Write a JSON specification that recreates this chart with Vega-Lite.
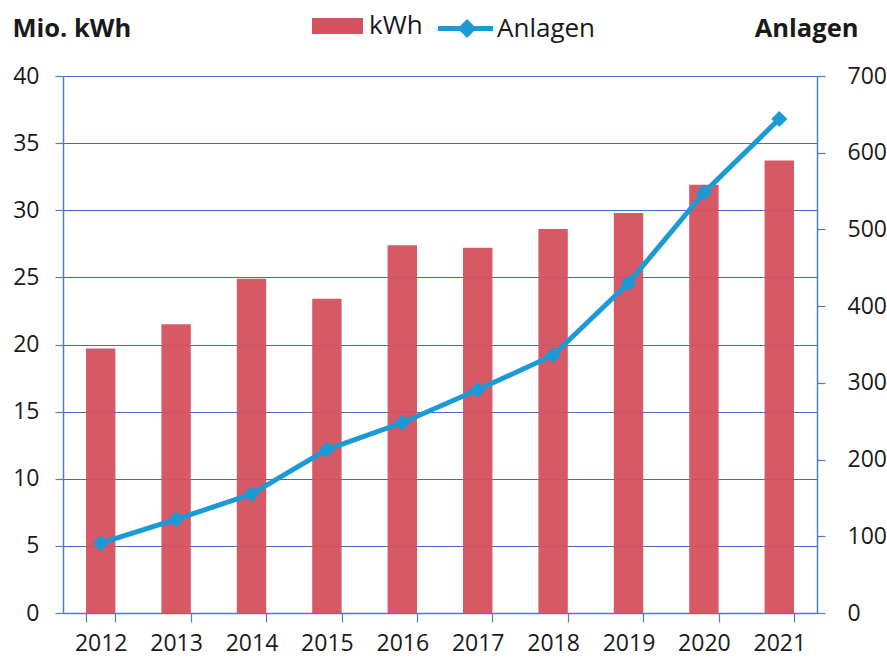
{
  "$schema": "https://vega.github.io/schema/vega-lite/v6.json",
  "width": 754,
  "height": 537,
  "autosize": "none",
  "padding": {"left": 63, "top": 76, "right": 70, "bottom": 46},
  "background": "white",
  "config": {
    "view": {"stroke": null},
    "font": "Open Sans",
    "axis": {
      "labelFont": "Open Sans",
      "labelFontSize": 23,
      "labelColor": "#1a1a1a",
      "domainColor": "#4f7ebd",
      "domainWidth": 1.5,
      "tickColor": "#4f7ebd",
      "tickWidth": 1.2,
      "gridColor": "#3f6fb5",
      "gridWidth": 1.1,
      "titleFont": "Open Sans",
      "titleFontSize": 25.5,
      "titleFontWeight": "bold",
      "titleColor": "#1a1a1a"
    },
    "legend": {
      "labelFont": "Open Sans",
      "labelFontSize": 26,
      "labelColor": "#1a1a1a",
      "orient": "none",
      "direction": "horizontal",
      "symbolSize": 900,
      "labelOffset": 6
    }
  },
  "data": {
    "values": [
      {"year": "2012", "kwh": 19.7, "anlagen": 91},
      {"year": "2013", "kwh": 21.5, "anlagen": 122},
      {"year": "2014", "kwh": 24.9, "anlagen": 155},
      {"year": "2015", "kwh": 23.4, "anlagen": 213},
      {"year": "2016", "kwh": 27.4, "anlagen": 248},
      {"year": "2017", "kwh": 27.2, "anlagen": 291},
      {"year": "2018", "kwh": 28.6, "anlagen": 336},
      {"year": "2019", "kwh": 29.8, "anlagen": 430},
      {"year": "2020", "kwh": 31.9, "anlagen": 548},
      {"year": "2021", "kwh": 33.7, "anlagen": 644}
    ]
  },
  "encoding": {
    "x": {
      "field": "year",
      "type": "nominal",
      "scale": {"paddingInner": 0.61, "paddingOuter": 0.305},
      "axis": {
        "title": null,
        "labelAngle": 0,
        "tickBand": "extent",
        "tickSize": 9,
        "labelPadding": 10,
        "grid": false
      }
    }
  },
  "layer": [
    {
      "mark": {"type": "bar", "opacity": 0.95},
      "encoding": {
        "y": {
          "field": "kwh",
          "type": "quantitative",
          "scale": {"domain": [0, 40]},
          "axis": {
            "values": [0, 5, 10, 15, 20, 25, 30, 35, 40],
            "title": "Mio. kWh",
            "titleAngle": 0,
            "titleAlign": "left",
            "titleBaseline": "alphabetic",
            "titleX": -51,
            "titleY": -40,
            "tickSize": 8,
            "labelPadding": 16,
            "grid": true
          }
        },
        "fill": {
          "datum": "kWh",
          "type": "nominal",
          "scale": {"domain": ["kWh"], "range": ["#d6505e"]},
          "legend": {
            "title": null,
            "legendX": 270,
            "legendY": -65,
            "symbolType": "M-2.4,-0.53H1.0V0.53H-2.4Z",
            "symbolStrokeWidth": 0,
            "symbolOpacity": 1
          }
        }
      }
    },
    {
      "mark": {"type": "line", "strokeWidth": 5},
      "encoding": {
        "y": {
          "field": "anlagen",
          "type": "quantitative",
          "scale": {"domain": [0, 700]},
          "axis": {
            "orient": "right",
            "values": [0, 100, 200, 300, 400, 500, 600, 700],
            "title": "Anlagen",
            "titleAngle": 0,
            "titleAlign": "right",
            "titleBaseline": "alphabetic",
            "titleX": 41,
            "titleY": -40,
            "tickSize": 8,
            "labelPadding": 22,
            "grid": false
          }
        },
        "stroke": {
          "datum": "Anlagen",
          "type": "nominal",
          "scale": {"domain": ["Anlagen"], "range": ["#1b9ad6"]},
          "legend": {
            "title": null,
            "legendX": 393,
            "legendY": -65,
            "symbolType": "M-2.37,0H1.3M-0.43,-0.4L-0.03,0L-0.43,0.4L-0.83,0Z",
            "symbolStrokeWidth": 5,
            "symbolFillColor": "#1b9ad6",
            "symbolOpacity": 1
          }
        }
      }
    },
    {
      "mark": {"type": "point", "shape": "diamond", "size": 260, "filled": true, "opacity": 1, "color": "#1b9ad6"},
      "encoding": {
        "y": {"field": "anlagen", "type": "quantitative", "scale": {"domain": [0, 700]}, "axis": null}
      }
    }
  ],
  "resolve": {"scale": {"y": "independent"}}
}
